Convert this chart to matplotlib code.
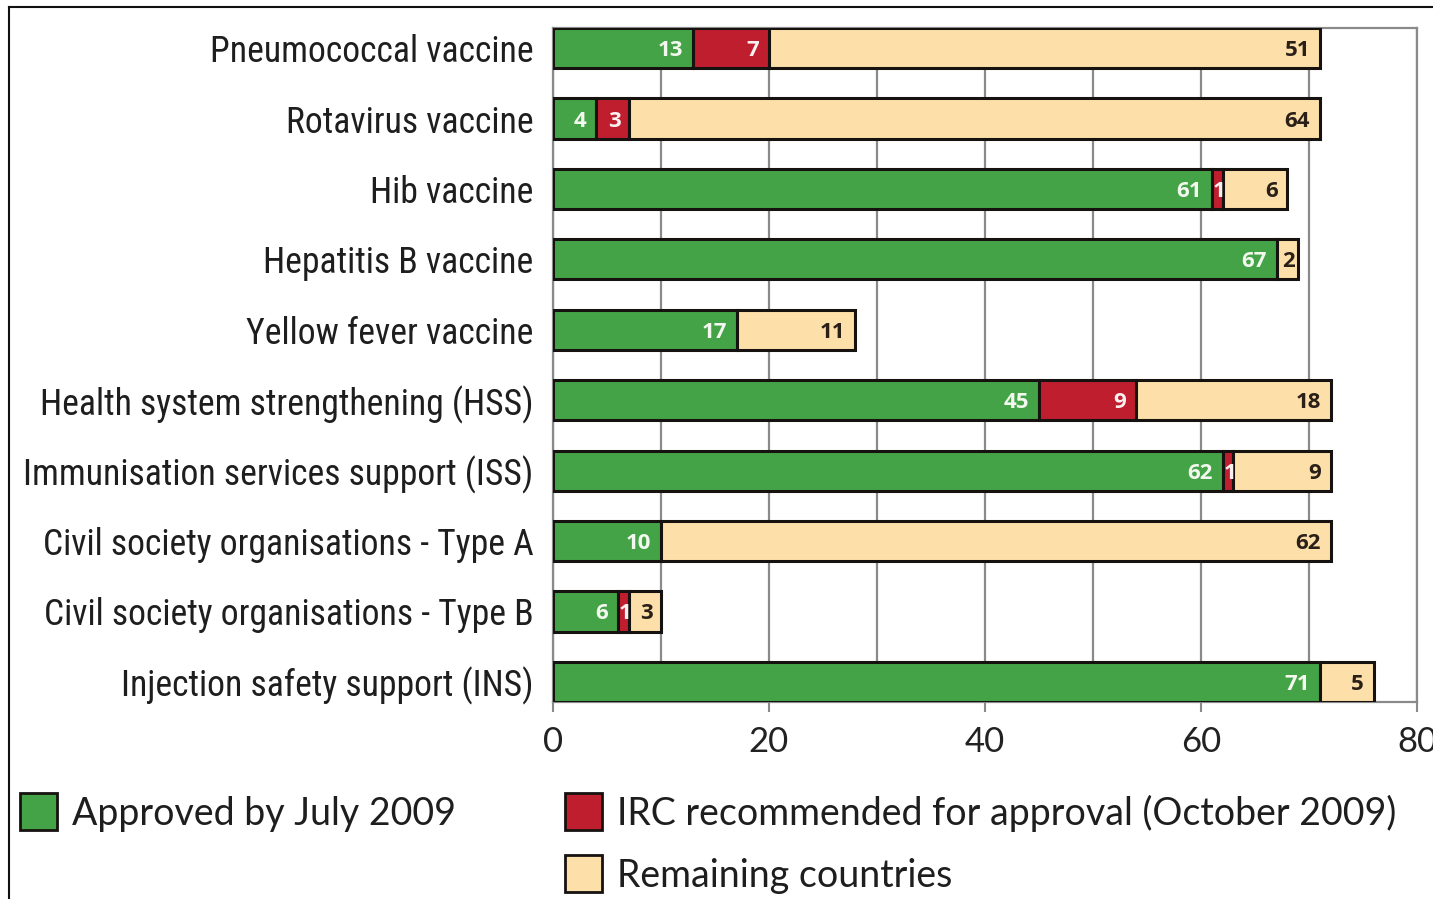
import matplotlib
matplotlib.use("Agg")
import matplotlib.pyplot as plt
from matplotlib import font_manager
from matplotlib.font_manager import FontProperties
from matplotlib.patches import Rectangle
from matplotlib.lines import Line2D

# ---- data -------------------------------------------------------------
categories = [
    "Pneumococcal vaccine",
    "Rotavirus vaccine",
    "Hib vaccine",
    "Hepatitis B vaccine",
    "Yellow fever vaccine",
    "Health system strengthening (HSS)",
    "Immunisation services support (ISS)",
    "Civil society organisations - Type A",
    "Civil society organisations - Type B",
    "Injection safety support (INS)",
]
approved = [13, 4, 61, 67, 17, 45, 62, 10, 6, 71]
irc_recommended = [7, 3, 1, 0, 0, 9, 1, 0, 1, 0]
remaining = [51, 64, 6, 2, 11, 18, 9, 62, 3, 5]

series_names = [
    "Approved by July 2009",
    "IRC recommended for approval (October 2009)",
    "Remaining countries",
]
series_colors = ["#45A347", "#BF1E2E", "#FDDFAA"]
label_colors = ["#F2F8EE", "#FBEFEF", "#2A2018"]
x_ticks = [0, 20, 40, 60, 80]

# ---- fonts ------------------------------------------------------------
fonts = font_manager.fontManager.ttflist
installed = {f.name for f in fonts}
regular = "Lato" if "Lato" in installed else "DejaVu Sans"
bold = "Open Sans" if "Open Sans" in installed else "DejaVu Sans"


def find_condensed():
    """Pick an upright, regular-weight condensed sans face if one exists."""
    prefs = ["Liberation Sans Narrow", "Noto Sans", "Roboto", "Open Sans",
             "DejaVu Sans", "Lato", "Inter"]
    cands = []
    for f in fonts:
        path = f.fname.lower()
        is_narrow = ("narrow" in f.name.lower() or "condensed" in f.name.lower()
                     or "condensed" in path or "narrow" in path
                     or f.stretch in ("condensed", "semi-condensed"))
        if not is_narrow:
            continue
        if f.style != "normal" or f.weight not in (400, "normal", "regular", "book"):
            continue
        if "extra" in path or "ultra" in path or "mono" in path or "serif" in path:
            continue
        base = next((i for i, p in enumerate(prefs) if f.name.startswith(p)), len(prefs))
        semi = 1 if "semi" in path else 0
        cands.append((base, semi, f.fname))
    if not cands:
        return None
    cands.sort()
    return cands[0][2]


cond_file = find_condensed()
if cond_file:
    cat_font = FontProperties(fname=cond_file, size=25.7)
else:
    cat_font = FontProperties(family=regular, size=20)

W, H = 1433, 899
fig = plt.figure(figsize=(W / 100, H / 100), dpi=100)
ax = fig.add_axes([553 / W, 1 - 702 / H, (1417 - 553) / W, (702 - 28) / H])

grid_grey = "#8A8A8A"
bar_h = 0.57
ypos = list(range(len(categories)))

# stacked bars with value labels
stack = [approved, irc_recommended, remaining]
for i in ypos:
    left = 0
    for s, vals in enumerate(stack):
        v = vals[i]
        if v > 0:
            ax.barh(i, v, left=left, height=bar_h, color=series_colors[s],
                    edgecolor="#161210", linewidth=2.2, zorder=3)
            if v >= 4:
                ax.annotate(str(v), xy=(left + v, i), xytext=(-7, 0),
                            textcoords="offset points", ha="right",
                            va="center_baseline",
                            fontsize=16, fontweight="bold", family=bold,
                            color=label_colors[s], zorder=4)
            else:
                ax.text(left + v / 2 + 0.15, i, str(v), ha="center",
                        va="center_baseline",
                        fontsize=16, fontweight="bold", family=bold,
                        color=label_colors[s], zorder=4)
            left += v

ax.set_xlim(0, 80)
ax.set_ylim(len(categories) - 1 + 0.285, -0.285)
ax.set_xticks(x_ticks)
ax.set_xticklabels([str(t) for t in x_ticks], family=regular, fontsize=25, color="#222222")
ax.set_xticks(range(10, 80, 10), minor=True)
ax.set_yticks(ypos)
ax.set_yticklabels(categories, fontproperties=cat_font, color="#1E1E1E")

ax.tick_params(axis="y", length=0, pad=14)
ax.tick_params(axis="x", which="major", direction="out", length=7, width=1.5,
               color=grid_grey, pad=10)
ax.tick_params(axis="x", which="minor", length=0)
ax.grid(axis="x", which="both", color=grid_grey, linewidth=1.6, zorder=0)
ax.set_axisbelow(True)
for side in ["left", "right", "top", "bottom"]:
    ax.spines[side].set_color(grid_grey)
    ax.spines[side].set_linewidth(1.6)

# legend drawn in figure pixels
def px_rect(x0, y0, x1, y1, color):
    fig.patches.append(Rectangle((x0 / W, 1 - y1 / H), (x1 - x0) / W, (y1 - y0) / H,
                                 transform=fig.transFigure, facecolor=color,
                                 edgecolor="#161210", linewidth=2, zorder=5))

legend_slots = [(20, 793, 830), (565, 793, 830), (565, 855, 892)]
for (x0, y0, y1), name, color in zip(legend_slots, series_names, series_colors):
    px_rect(x0, y0, x0 + 37, y1, color)
    fig.text((x0 + 52) / W, 1 - ((y0 + y1) / 2 + 2) / H, name, ha="left", va="center",
             family=regular, fontsize=27, color="#1E1E1E")

# outer frame
fig.add_artist(Line2D([9 / W, 1], [1 - 7 / H, 1 - 7 / H], transform=fig.transFigure,
                      color="#111111", linewidth=1.5))
fig.add_artist(Line2D([9 / W, 9 / W], [0, 1 - 7 / H], transform=fig.transFigure,
                      color="#111111", linewidth=1.5))

fig.savefig("out.png", dpi=100)
